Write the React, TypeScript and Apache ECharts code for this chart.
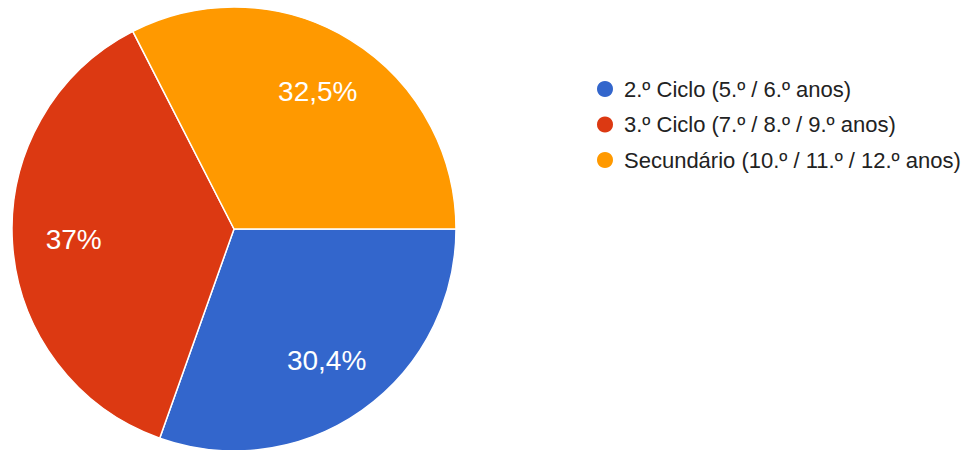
import React, { useEffect, useRef } from "react";
import * as echarts from "echarts";

const categories = [
  "2.º Ciclo (5.º / 6.º anos)",
  "3.º Ciclo (7.º / 8.º / 9.º anos)",
  "Secundário (10.º / 11.º / 12.º anos)",
];
const values = [30.4, 37, 32.5];
const valueLabels = ["30,4%", "37%", "32,5%"];
const colors = ["#3366cc", "#dc3912", "#ff9900"];

export default function App() {
  const ref = useRef<HTMLDivElement>(null);
  useEffect(() => {
    if (!ref.current) return;
    document.body.style.margin = "0";
    const chart = echarts.init(ref.current, undefined, { renderer: "svg" });
    const data = categories.map((name, i) => ({
      name,
      value: values[i],
      itemStyle: { color: colors[i] },
    }));
    const center = [234, 229];
    const R = 222;
    chart.setOption({
      animation: false,
      color: colors,
      legend: {
        orient: "vertical",
        left: 590,
        top: 73,
        icon: "circle",
        itemWidth: 18,
        itemHeight: 18,
        itemGap: 13.5,
        data: categories,
        textStyle: {
          fontFamily: "Liberation Sans, Arial, sans-serif",
          fontSize: 22,
          lineHeight: 22,
          color: "#222222",
          padding: [0, 0, 0, 5],
        },
      },
      series: [
        {
          type: "pie",
          center,
          radius: [0, R],
          startAngle: 0,
          clockwise: true,
          data,
          itemStyle: { borderColor: "#ffffff", borderWidth: 1.5 },
          label: { show: false },
          labelLine: { show: false },
          emphasis: { disabled: true },
        },
        {
          type: "pie",
          center,
          radius: [R * 0.42, R],
          startAngle: 0,
          clockwise: true,
          silent: true,
          legendHoverLink: false,
          data: data.map((d) => ({ ...d, itemStyle: { color: "transparent" } })),
          itemStyle: { borderWidth: 0 },
          label: {
            show: true,
            position: "inside",
            formatter: (p: any) => valueLabels[p.dataIndex],
            color: "#ffffff",
            fontSize: 28,
            fontFamily: "Liberation Sans, Arial, sans-serif",
          },
          labelLine: { show: false },
          emphasis: { disabled: true },
        },
      ],
    });
    return () => chart.dispose();
  }, []);
  return (
    <div
      ref={ref}
      style={{ position: "absolute", left: 0, top: 0, width: 962, height: 450 }}
    />
  );
}
